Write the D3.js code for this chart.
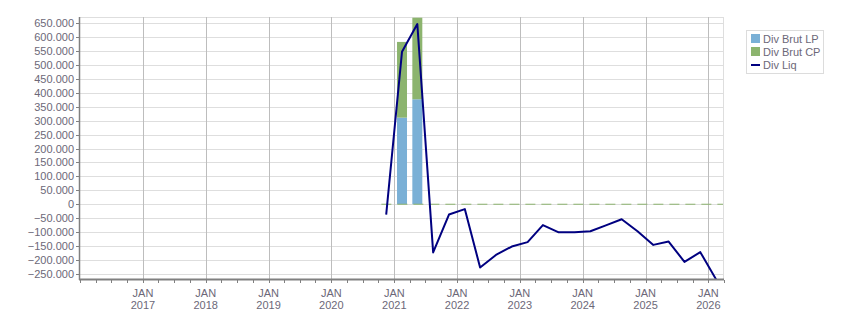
<!DOCTYPE html>
<html><head><meta charset="utf-8">
<script src="https://cdn.jsdelivr.net/npm/d3@7"></script>
<style>
html,body{margin:0;padding:0;background:#fff;}
svg{display:block;font-family:"Liberation Sans",Arial,sans-serif;}
</style></head>
<body><svg id="c" width="851" height="313"></svg>
<script>
// ---- data ----
const lineDates = ["2020-11-15","2021-02-15","2021-05-15","2021-08-15","2021-11-15","2022-02-15","2022-05-15","2022-08-15","2022-11-15","2023-02-15","2023-05-15","2023-08-15","2023-11-15","2024-02-15","2024-05-15","2024-08-15","2024-11-15","2025-02-15","2025-05-15","2025-08-15","2025-11-15","2026-02-15"];
const divLiq = [-37000,548000,647000,-173000,-37000,-17500,-227000,-182000,-152000,-136000,-75000,-101000,-101000,-97000,-76000,-54000,-97000,-146000,-134000,-207000,-172000,-270000];
const barDates = ["2021-02-15","2021-05-15"];
const divBrutLP = [311000,377000];
const divBrutCP = [272000,293000];
const yTicks = [650000,600000,550000,500000,450000,400000,350000,300000,250000,200000,150000,100000,50000,0,-50000,-100000,-150000,-200000,-250000];
const yearTicks = [2017,2018,2019,2020,2021,2022,2023,2024,2025,2026];
const seriesNames = ["Div Brut LP","Div Brut CP","Div Liq"];
const zeroLineStart = "2020-10-18";

// ---- layout ----
const L=80, R=723, T=17, B=279;
const colLP="#7ab0d6", colCP="#8cb46e", colLiq="#000080", txt="#6c6878";
const parse = d3.timeParse("%Y-%m-%d");
const svg = d3.select("#c");
const x = d3.scaleTime().domain([new Date(2016,0,1), new Date(2026,2,27)]).range([L,R]);
const y = d3.scaleLinear().domain([-268500,672500]).range([B,T]);

// grid horizontal
svg.append("g").selectAll("line").data(yTicks).join("line")
  .attr("x1",L).attr("x2",R).attr("y1",d=>Math.round(y(d))+0.5).attr("y2",d=>Math.round(y(d))+0.5)
  .attr("stroke","#dedede").attr("stroke-width",1);
// plot border top/right
svg.append("line").attr("x1",L).attr("x2",R).attr("y1",T+0.5).attr("y2",T+0.5).attr("stroke","#dedede");
svg.append("line").attr("x1",R+0.5).attr("x2",R+0.5).attr("y1",T).attr("y2",B).attr("stroke","#dedede");
// vertical year grid
svg.append("g").selectAll("line").data(yearTicks).join("line")
  .attr("x1",d=>Math.round(x(new Date(d,0,1)))+0.5).attr("x2",d=>Math.round(x(new Date(d,0,1)))+0.5)
  .attr("y1",T).attr("y2",B).attr("stroke","#bdbdbd").attr("stroke-width",1);

const clip = svg.append("clipPath").attr("id","pc").append("rect").attr("x",L).attr("y",T).attr("width",R-L).attr("height",B-T);
const plot = svg.append("g").attr("clip-path","url(#pc)");

// bars (stacked)
const halfDays = 29;
const bx = d => x(d3.timeDay.offset(parse(d),-halfDays));
const bw = d => x(d3.timeDay.offset(parse(d),halfDays)) - bx(d);
plot.selectAll("rect.lp").data(barDates).join("rect").attr("class","lp")
  .attr("x",bx).attr("width",bw)
  .attr("y",(d,i)=>y(divBrutLP[i])).attr("height",(d,i)=>y(0)-y(divBrutLP[i]))
  .attr("fill",colLP);
plot.selectAll("rect.cp").data(barDates).join("rect").attr("class","cp")
  .attr("x",bx).attr("width",bw)
  .attr("y",(d,i)=>y(divBrutLP[i]+divBrutCP[i])).attr("height",(d,i)=>y(divBrutLP[i])-y(divBrutLP[i]+divBrutCP[i]))
  .attr("fill",colCP);

// zero dashed line
plot.append("line").attr("x1",x(parse(zeroLineStart))).attr("x2",R)
  .attr("y1",y(0)).attr("y2",y(0)).attr("stroke","#8cb46e").attr("stroke-width",1)
  .attr("stroke-dasharray","10,6");

// line
const pts = lineDates.map((d,i)=>[parse(d),divLiq[i]]);
plot.append("path").datum(pts)
  .attr("d",d3.line().x(d=>x(d[0])).y(d=>y(d[1])))
  .attr("fill","none").attr("stroke",colLiq).attr("stroke-width",2).attr("stroke-linejoin","round");

// y axis
svg.append("line").attr("x1",L-0.5).attr("x2",L-0.5).attr("y1",T).attr("y2",B+1).attr("stroke","#808080").attr("stroke-width",1.5);
const fmt = d => d3.format(",")(d).replace(/,/g,".");
const yg = svg.append("g").selectAll("g").data(yTicks).join("g")
  .attr("transform",d=>`translate(0,${Math.round(y(d))+0.5})`);
yg.append("line").attr("x1",L-4).attr("x2",L).attr("stroke","#808080");
yg.append("text").attr("x",L-6).attr("dy","0.35em").attr("text-anchor","end")
  .attr("font-size",11).attr("fill",txt).text(fmt);

// x axis
svg.append("line").attr("x1",L-1).attr("x2",R+1).attr("y1",B+0.5).attr("y2",B+0.5).attr("stroke","#808080").attr("stroke-width",2);
const qTicks = d3.timeMonth.every(3).range(new Date(2016,0,1), new Date(2026,3,2));
svg.append("g").selectAll("line").data(qTicks).join("line")
  .attr("x1",d=>Math.round(x(d))+0.5).attr("x2",d=>Math.round(x(d))+0.5)
  .attr("y1",B+1).attr("y2",B+4).attr("stroke","#808080");
const xl = svg.append("g").selectAll("text").data(yearTicks).join("text")
  .attr("x",d=>x(new Date(d,0,1))).attr("text-anchor","middle").attr("font-size",11).attr("fill",txt);
xl.append("tspan").attr("x",d=>x(new Date(d,0,1))).attr("y",297).text("JAN");
xl.append("tspan").attr("x",d=>x(new Date(d,0,1))).attr("y",309).text(d=>d);

// legend
const lg = svg.append("g").attr("transform","translate(746,30)");
lg.append("rect").attr("x",0.5).attr("y",0.5).attr("width",77).attr("height",43).attr("fill","#fff").attr("stroke","#dcdcdc");
const items = lg.selectAll("g").data(seriesNames).join("g").attr("transform",(d,i)=>`translate(5,${4+i*13})`);
items.filter((d,i)=>i<2).append("rect").attr("x",0).attr("y",0).attr("width",9).attr("height",9)
  .attr("fill",(d,i)=>i===0?colLP:colCP);
items.filter((d,i)=>i===2).append("line").attr("x1",0).attr("x2",9).attr("y1",5).attr("y2",5)
  .attr("stroke",colLiq).attr("stroke-width",2);
items.append("text").attr("x",12).attr("y",9).attr("font-size",11).attr("fill",txt).text(d=>d);
</script></body></html>
